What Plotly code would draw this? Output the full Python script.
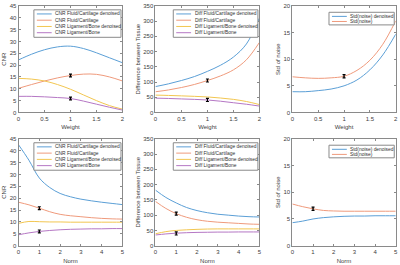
import plotly.graph_objects as go

# ---------------- data ----------------
weight = [0, 0.25, 0.5, 0.75, 1.0, 1.25, 1.5, 1.75, 2.0]
norm = [0, 0.5, 1, 1.5, 2, 2.5, 3, 3.5, 4, 4.5, 5]

# Weight panels
cnr_fc_den_w = [22.2, 24.6, 26.5, 27.7, 28.0, 27.0, 25.2, 23.1, 21.0]
cnr_fc_w = [10.2, 11.8, 13.3, 14.6, 15.6, 16.2, 16.1, 15.0, 13.3]
cnr_lb_den_w = [14.4, 14.1, 13.3, 11.8, 9.8, 7.4, 5.0, 2.9, 1.4]
cnr_lb_w = [6.8, 6.8, 6.6, 6.3, 5.9, 4.8, 3.5, 2.2, 1.0]

diff_fc_den_w = [85, 94, 105, 118, 135, 155, 182, 225, 310]
diff_fc_w = [68, 74, 82, 92, 105, 120, 140, 173, 230]
diff_lb_den_w = [57, 56, 54.5, 53, 51, 47.5, 43, 36, 26]
diff_lb_w = [47, 46, 44.5, 43, 41, 37, 32, 27, 21]

std_den_w = [3.9, 3.9, 4.1, 4.4, 5.0, 6.1, 8.0, 10.8, 14.7]
std_w = [6.7, 6.5, 6.4, 6.5, 6.8, 7.9, 9.8, 12.8, 17.2]

# Norm panels
cnr_fc_den_n = [42.5, 36.0, 28.5, 24.5, 22.0, 20.6, 19.6, 18.9, 18.3, 17.8, 17.3]
cnr_fc_n = [18.3, 17.2, 15.8, 14.3, 13.2, 12.6, 12.2, 11.8, 11.5, 11.3, 11.2]
cnr_lb_den_n = [9.4, 10.2, 10.1, 10.0, 10.0, 9.9, 9.9, 9.9, 9.9, 9.9, 9.9]
cnr_lb_n = [4.6, 5.4, 6.0, 6.4, 6.7, 6.9, 7.0, 7.1, 7.1, 7.2, 7.2]

diff_fc_den_n = [182, 158, 140, 125, 115, 108, 103, 100, 97, 95, 94]
diff_fc_n = [145, 122, 105, 93, 85, 80, 77, 75, 73, 71, 70]
diff_lb_den_n = [39, 46, 50, 52, 53.5, 54.5, 55, 55, 55, 55, 55]
diff_lb_n = [35, 38.5, 41, 42.5, 43.5, 44, 44.5, 44.5, 45, 45, 45]

std_den_n = [4.3, 4.6, 5.0, 5.25, 5.4, 5.5, 5.55, 5.55, 5.6, 5.6, 5.6]
std_n = [7.8, 7.3, 6.9, 6.6, 6.5, 6.45, 6.45, 6.45, 6.45, 6.45, 6.45]

# error bars (x, y, half-length) per panel
err_x = [1, 1]
err_cnr_w = ([15.6, 5.9], [0.6, 0.6])
err_diff_w = ([105, 41], [5, 5])
err_std_w = ([6.8], [0.3])
err_cnr_n = ([15.8, 6.0], [0.6, 0.6])
err_diff_n = ([105, 40], [5, 5])
err_std_n = ([6.9], [0.3])

cnr_labels = ["CNR Fluid/Cartilage denoised", "CNR Fluid/Cartilage",
              "CNR Ligament/Bone denoised", "CNR Ligament/Bone"]
diff_labels = ["Diff Fluid/Cartilage denoised", "Diff Fluid/Cartilage",
               "Diff Ligament/Bone denoised", "Diff Ligament/Bone"]
std_labels = ["Std(noise) denoised", "Std(noise)"]

x_titles = ["Weight", "Norm"]
y_titles = ["CNR", "Difference between Tissue", "Std of noise"]
y_ranges = [[0, 45], [0, 350], [0, 20]]
y_dticks = [5, 50, 5]

# ---------------- styling ----------------
colors = ["#5b9fd6", "#ef9a7c", "#f2c650", "#b577c4"]
FONT = "Arial, Liberation Sans, sans-serif"
W, H = 400, 265
col_px = [(16.7, 121.7), (155, 260), (293.3, 397.7)]
row_px = [(3, 112), (139, 248.3)]

fig = go.Figure()

panels = [
    # row, col, x, series, labels, err
    (0, 0, weight, [cnr_fc_den_w, cnr_fc_w, cnr_lb_den_w, cnr_lb_w], cnr_labels, err_cnr_w),
    (0, 1, weight, [diff_fc_den_w, diff_fc_w, diff_lb_den_w, diff_lb_w], diff_labels, err_diff_w),
    (0, 2, weight, [std_den_w, std_w], std_labels, err_std_w),
    (1, 0, norm, [cnr_fc_den_n, cnr_fc_n, cnr_lb_den_n, cnr_lb_n], cnr_labels, err_cnr_n),
    (1, 1, norm, [diff_fc_den_n, diff_fc_n, diff_lb_den_n, diff_lb_n], diff_labels, err_diff_n),
    (1, 2, norm, [std_den_n, std_n], std_labels, err_std_n),
]

layout_axes = {}
for i, (r, c, xs, series, labels, err) in enumerate(panels):
    k = i + 1
    xa = "x" if k == 1 else f"x{k}"
    ya = "y" if k == 1 else f"y{k}"
    for j, ys in enumerate(series):
        fig.add_trace(go.Scatter(x=xs, y=ys, mode="lines", name=labels[j],
                                 line=dict(color=colors[j], width=1, shape="spline"),
                                 xaxis=xa, yaxis=ya, showlegend=False))
    ey, ee = err
    fig.add_trace(go.Scatter(x=err_x[:len(ey)], y=ey, mode="markers",
                             marker=dict(size=1, color="black"),
                             error_y=dict(type="data", array=ee, color="black",
                                          thickness=1.2, width=1.5),
                             xaxis=xa, yaxis=ya, showlegend=False))
    x0, x1 = col_px[c]
    y0, y1 = row_px[r]
    axis_common = dict(showline=True, linecolor="#8a8a8a", linewidth=1, mirror="ticks",
                       ticks="inside", ticklen=2, tickcolor="#8a8a8a",
                       showgrid=False, zeroline=False,
                       tickfont=dict(size=6, color="#404040", family=FONT))
    xmax = xs[-1]
    layout_axes["xaxis" if k == 1 else f"xaxis{k}"] = dict(
        axis_common, domain=[x0 / W, x1 / W], range=[0, xmax],
        dtick=0.5 if xmax == 2 else 1, anchor=ya,
        title=dict(text=x_titles[r], font=dict(size=6, color="#404040", family=FONT), standoff=4))
    layout_axes["yaxis" if k == 1 else f"yaxis{k}"] = dict(
        axis_common, domain=[1 - y1 / H, 1 - y0 / H], range=y_ranges[c],
        dtick=y_dticks[c], anchor=xa,
        title=dict(text=y_titles[c], font=dict(size=6, color="#404040", family=FONT), standoff=2))

    # legend box drawn in pixel space of the panel
    n = len(labels)
    lx0 = x0 + (15.5 if c == 0 else 18 if c == 1 else 37)
    lx1 = x1 - 1.5
    ly0 = y0 + (4 if n == 4 else 6.5)
    row_h = 6.4 if n == 4 else 5.2
    ly1 = ly0 + row_h * n + 2.5
    fig.add_shape(type="rect", xref="paper", yref="paper",
                  x0=lx0 / W, x1=lx1 / W, y0=1 - ly0 / H, y1=1 - ly1 / H,
                  line=dict(color="#8a8a8a", width=1), fillcolor="white", layer="above")
    for j, lab in enumerate(labels):
        yy = ly0 + 4.2 + row_h * j
        fig.add_shape(type="line", xref="paper", yref="paper",
                      x0=(lx0 + 3) / W, x1=(lx0 + 18) / W, y0=1 - yy / H, y1=1 - yy / H,
                      line=dict(color=colors[j], width=1), layer="above")
        fig.add_annotation(xref="paper", yref="paper", x=(lx0 + 19.5) / W, y=1 - yy / H,
                           text=lab, showarrow=False, xanchor="left", yanchor="middle",
                           font=dict(size=4.9, color="#303030", family=FONT))

fig.update_layout(**layout_axes)
fig.update_layout(width=W, height=H, margin=dict(l=0, r=0, t=0, b=0),
                  paper_bgcolor="white", plot_bgcolor="white", showlegend=False,
                  font=dict(family=FONT))

fig.write_html("out.html", config={"displayModeBar": False},
               post_script="document.body.style.margin='0';document.body.style.overflow='hidden';")
